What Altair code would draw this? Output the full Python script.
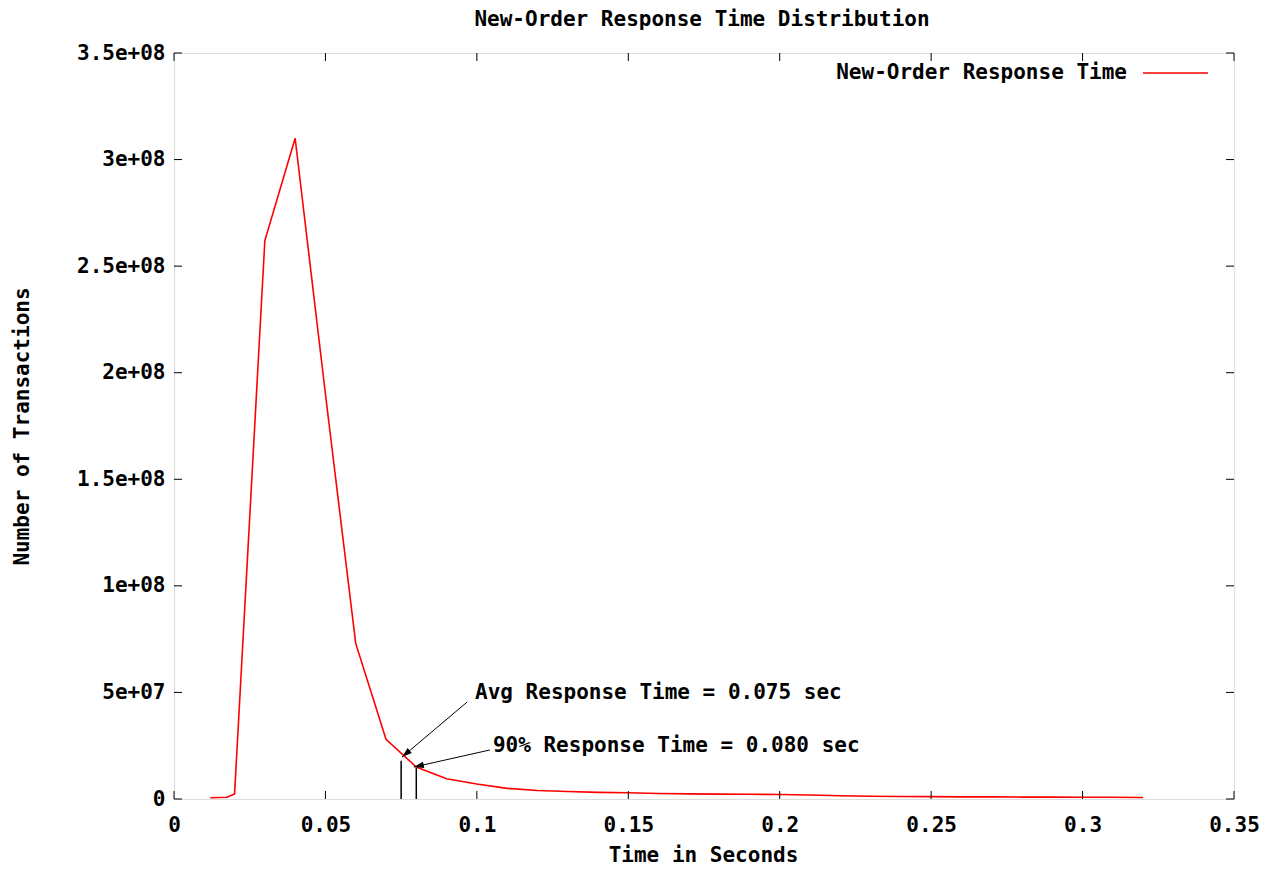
import math
import altair as alt
import pandas as pd

# ---- data ----
time_s = [0.012, 0.0175, 0.02, 0.03, 0.04, 0.05, 0.06, 0.07, 0.08, 0.09, 0.10,
          0.11, 0.12, 0.13, 0.14, 0.15, 0.16, 0.17, 0.18, 0.19, 0.20, 0.21,
          0.22, 0.23, 0.24, 0.25, 0.26, 0.27, 0.28, 0.29, 0.30, 0.31, 0.32]
transactions = [0.6e6, 0.8e6, 2.4e6, 2.62e8, 3.10e8, 1.90e8, 0.73e8, 0.28e8,
                1.5e7, 0.95e7, 0.70e7, 0.50e7, 0.40e7, 0.35e7, 0.31e7, 0.29e7,
                0.26e7, 0.24e7, 0.23e7, 0.22e7, 0.21e7, 0.19e7, 0.15e7, 0.13e7,
                0.12e7, 0.11e7, 0.10e7, 0.10e7, 0.09e7, 0.09e7, 0.08e7, 0.08e7,
                0.07e7]

x_ticks = [0, 0.05, 0.10, 0.15, 0.20, 0.25, 0.30, 0.35]
y_ticks = [0, 5e7, 1e8, 1.5e8, 2e8, 2.5e8, 3e8, 3.5e8]

marker_x = [0.075, 0.080]
marker_top = [1.80e7, 1.45e7]

arrow_x0 = [0.0968, 0.1043]
arrow_y0 = [4.55e7, 2.30e7]
arrow_x1 = [0.0753, 0.0792]
arrow_y1 = [1.97e7, 1.50e7]

label_x = [0.0994, 0.1053]
label_y = [4.97e7, 2.49e7]
label_text = ["Avg Response Time = 0.075 sec", "90% Response Time = 0.080 sec"]

series_name = "New-Order Response Time"
title_text = "New-Order Response Time Distribution"
x_title = "Time in Seconds"
y_title = "Number of Transactions"

# ---- layout ----
W, H = 1060, 746
XMAX, YMAX = 0.35, 3.5e8
FONT = "DejaVu Sans Mono"
FS = 21
TICK = 8

xs = alt.Scale(domain=[0, XMAX], nice=False, zero=False)
ys = alt.Scale(domain=[0, YMAX], nice=False)

df = pd.DataFrame({"t": time_s, "n": transactions})
xt = pd.DataFrame({"v": x_ticks})
yt = pd.DataFrame({"v": y_ticks})
mk = pd.DataFrame({"x": marker_x, "top": marker_top})

sx = W / XMAX
sy = H / YMAX
angles = []
for a, b, c, d in zip(arrow_x0, arrow_y0, arrow_x1, arrow_y1):
    dx = (c - a) * sx
    dy = -(d - b) * sy
    angles.append(math.degrees(math.atan2(dx, -dy)) % 360)
ar = pd.DataFrame({"x0": arrow_x0, "y0": arrow_y0, "x1": arrow_x1,
                   "y1": arrow_y1, "ang": angles})
lb = pd.DataFrame({"x": label_x, "y": label_y, "txt": label_text})
one = pd.DataFrame({"k": [0]})

x_axis = alt.Axis(values=x_ticks, labelExpr="format(datum.value, '~g')",
                  grid=False, ticks=False, tickSize=0, domain=False,
                  labelPadding=26, labelBaseline="middle",
                  labelFont=FONT, labelFontSize=FS, labelFontWeight="bold",
                  labelColor="black", title=x_title, titleFont=FONT,
                  titleFontSize=FS, titleFontWeight="bold", titleColor="black",
                  titleX=529, titleY=56, titleBaseline="middle",
                  titleAlign="center", labelFlush=False)
y_axis = alt.Axis(values=y_ticks,
                  labelExpr="datum.value == 0 ? '0' : replace(format(datum.value, '.2~e'), 'e+', 'e+0')",
                  grid=False, ticks=False, tickSize=0, domain=False,
                  labelPadding=9, labelFont=FONT, labelFontSize=FS,
                  labelFontWeight="bold", labelColor="black", title=y_title,
                  titleFont=FONT, titleFontSize=FS, titleFontWeight="bold",
                  titleColor="black", titleAngle=270, titleX=-152, titleY=373,
                  titleAlign="center", titleBaseline="middle", labelFlush=False)

line = alt.Chart(df).mark_line(color="#ff0000", strokeWidth=1.6).encode(
    x=alt.X("t:Q", scale=xs, axis=x_axis),
    y=alt.Y("n:Q", scale=ys, axis=y_axis),
)

tick_l = alt.Chart(yt).mark_rule(color="black", strokeWidth=1).encode(
    y=alt.Y("v:Q", scale=ys), x=alt.value(0), x2=alt.value(TICK))
tick_r = alt.Chart(yt).mark_rule(color="black", strokeWidth=1).encode(
    y=alt.Y("v:Q", scale=ys), x=alt.value(W - TICK), x2=alt.value(W))
tick_b = alt.Chart(xt).mark_rule(color="black", strokeWidth=1).encode(
    x=alt.X("v:Q", scale=xs), y=alt.value(H), y2=alt.value(H - TICK))
tick_t = alt.Chart(xt).mark_rule(color="black", strokeWidth=1).encode(
    x=alt.X("v:Q", scale=xs), y=alt.value(0), y2=alt.value(TICK))

markers = alt.Chart(mk).mark_rule(color="black", strokeWidth=1.5).encode(
    x=alt.X("x:Q", scale=xs), y=alt.Y("top:Q", scale=ys), y2=alt.datum(0))

arrow_lines = alt.Chart(ar).mark_rule(color="black", strokeWidth=1).encode(
    x=alt.X("x0:Q", scale=xs), y=alt.Y("y0:Q", scale=ys),
    x2="x1:Q", y2="y1:Q")
arrow_heads = alt.Chart(ar).mark_point(
    shape="M0,0L-0.32,1L0.32,1Z", filled=True, color="black", opacity=1,
    size=400).encode(
    x=alt.X("x1:Q", scale=xs), y=alt.Y("y1:Q", scale=ys),
    angle=alt.Angle("ang:Q", scale=None))

labels = alt.Chart(lb).mark_text(align="left", baseline="middle", font=FONT,
                                 fontSize=FS, fontWeight="bold",
                                 color="black").encode(
    x=alt.X("x:Q", scale=xs), y=alt.Y("y:Q", scale=ys), text="txt:N")

leg_text = alt.Chart(one).mark_text(align="right", baseline="middle", font=FONT,
                                    fontSize=FS, fontWeight="bold",
                                    color="black").encode(
    x=alt.value(953), y=alt.value(20), text=alt.value(series_name))
leg_line = alt.Chart(one).mark_rule(color="#ff0000", strokeWidth=1.6).encode(
    x=alt.value(969), x2=alt.value(1034), y=alt.value(20))

title_mark = alt.Chart(one).mark_text(align="center", baseline="middle",
                                      font=FONT, fontSize=FS, fontWeight="bold",
                                      color="black").encode(
    x=alt.value(W / 2 - 2), y=alt.value(-33), text=alt.value(title_text))

chart = alt.layer(
    line, tick_l, tick_r, tick_b, tick_t, markers, arrow_lines, arrow_heads,
    labels, leg_text, leg_line, title_mark
).properties(
    width=W, height=H,
    autosize=alt.AutoSizeParams(type="none"),
    padding={"left": 166, "top": 45, "right": 42, "bottom": 66},
).configure_view(
    stroke="black", strokeWidth=1.5, fill="white"
).configure(background="white")

chart.save("out.html", embed_options={"renderer": "svg", "actions": False})
